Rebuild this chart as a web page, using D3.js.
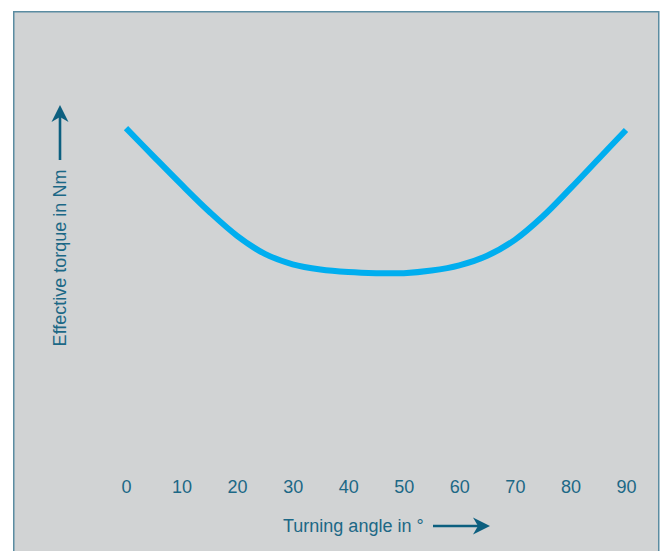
<!DOCTYPE html>
<html>
<head>
<meta charset="utf-8">
<script src="https://cdn.jsdelivr.net/npm/d3@7"></script>
<style>
  html, body { margin: 0; padding: 0; background: #fff; }
  svg { display: block; font-family: "Liberation Sans", Arial, sans-serif; }
</style>
</head>
<body>
<div id="chart"></div>
<script>
// turning angle in degrees
const ANGLES = [0, 5, 10, 15, 20, 25, 30, 35, 40, 45, 50, 55, 60, 65, 70, 75, 80, 85, 90];
// effective torque, relative units (no scale printed on the chart)
const TORQUE = [92.4, 84.7, 77.1, 69.8, 63.3, 58.4, 55.6, 54.2, 53.5, 53.2, 53.2, 53.9, 55.3, 57.9, 62.2, 68.5, 76.1, 84.0, 91.9];
const X_TICKS = [0, 10, 20, 30, 40, 50, 60, 70, 80, 90];

const X_LABEL = "Turning angle in °";
const Y_LABEL = "Effective torque in Nm";

const TEXT_COLOR = "#1c6886";
const ARROW_COLOR = "#0c5f7f";
const LINE_COLOR = "#00aeef";

const drawChart = () => {
    const width = 661;
    const height = 551;

    const svg = d3.select("#chart").append("svg")
        .attr("width", width)
        .attr("height", height);

    // grey panel
    svg.append("rect")
        .attr("x", 13.75)
        .attr("y", 11.75)
        .attr("width", 645)
        .attr("height", height)
        .attr("fill", "#d1d3d4")
        .attr("stroke", "#5b8ca1")
        .attr("stroke-width", 1.5);

    const x = d3.scaleLinear()
        .domain([0, 90])
        .range([126, 626]);

    const y = d3.scaleLinear()
        .domain([0, 100])
        .range([470, 100]);

    const axis = svg.append("g")
        .attr("transform", "translate(0,480)")
        .call(d3.axisBottom(x).tickValues(X_TICKS).tickSize(0).tickPadding(0));
    axis.select(".domain").remove();
    axis.selectAll("text")
        .attr("fill", TEXT_COLOR)
        .attr("font-size", 18)
        .attr("font-family", "Liberation Sans, Arial, sans-serif");

    // x label + arrow
    svg.append("text")
        .attr("x", 283)
        .attr("y", 532)
        .attr("fill", TEXT_COLOR)
        .attr("font-size", 18)
        .text(X_LABEL);

    const arrow = (x1, y1, x2, y2) => {
        const ang = Math.atan2(y2 - y1, x2 - x1);
        const len = 17, half = 8.5, notch = 5;
        const g = svg.append("g").attr("fill", ARROW_COLOR).attr("stroke", ARROW_COLOR);
        const bx = x2 - Math.cos(ang) * (len - notch);
        const by = y2 - Math.sin(ang) * (len - notch);
        g.append("line")
            .attr("x1", x1).attr("y1", y1)
            .attr("x2", bx).attr("y2", by)
            .attr("stroke-width", 2.6);
        const px = -Math.sin(ang), py = Math.cos(ang);
        const cx = x2 - Math.cos(ang) * len, cy = y2 - Math.sin(ang) * len;
        const pts = [
            [x2, y2],
            [cx + px * half, cy + py * half],
            [bx, by],
            [cx - px * half, cy - py * half]
        ];
        g.append("path")
            .attr("d", "M" + pts.map(p => p.join(",")).join("L") + "Z")
            .attr("stroke", "none");
    };

    arrow(433, 526, 490, 526);

    // y label + arrow
    svg.append("text")
        .attr("transform", "translate(66,258) rotate(-90)")
        .attr("text-anchor", "middle")
        .attr("fill", TEXT_COLOR)
        .attr("font-size", 18)
        .text(Y_LABEL);

    arrow(60, 160, 60, 105);

    // torque curve
    const line = d3.line()
        .x((d, i) => x(ANGLES[i]))
        .y(d => y(d))
        .curve(d3.curveCatmullRom.alpha(0.5));

    svg.append("path")
        .datum(TORQUE)
        .attr("d", line)
        .attr("fill", "none")
        .attr("stroke", LINE_COLOR)
        .attr("stroke-width", 6);
};

window.addEventListener("DOMContentLoaded", () => {
    drawChart();
}, {once: true});
</script>
</body>
</html>
